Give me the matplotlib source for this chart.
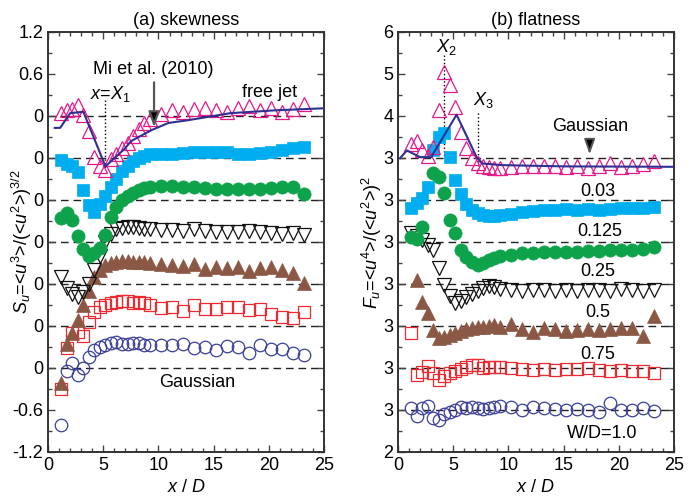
import numpy as np
import matplotlib.pyplot as plt
from matplotlib.ticker import MultipleLocator

plt.rcParams['font.family'] = ['Liberation Sans', 'DejaVu Sans']
plt.rcParams['mathtext.fontset'] = 'custom'
plt.rcParams['mathtext.rm'] = 'Liberation Sans'
plt.rcParams['mathtext.it'] = 'Liberation Sans:italic'
plt.rcParams['font.size'] = 13

nan = np.nan

# streamwise stations x/D
x_d = [1.2, 1.7, 2.2, 2.7, 3.2, 3.7, 4.2, 4.7, 5.2, 5.7, 6.2, 6.7, 7.2, 7.7, 8.2, 8.7, 9.2,
       10.2, 11.2, 12.2, 13.2, 14.2, 15.2, 16.2, 17.2, 18.2, 19.2, 20.2, 21.2, 22.2, 23.2]

series_names = ['free jet', '0.03', '0.125', '0.25', '0.5', '0.75', 'W/D=1.0']

# skewness, top (free jet) to bottom (W/D=1.0)
skew_free = [0.04, 0.08, 0.10, 0.16, 0.02, -0.22, -0.58, -0.72, -0.77, -0.62, -0.55, -0.46, -0.38, -0.28, -0.18, -0.10, -0.05,
             0.03, 0.08, 0.05, 0.10, 0.12, 0.08, 0.06, 0.12, 0.14, 0.08, 0.12, 0.05, 0.10, 0.17]
skew_003 = [-0.03, -0.08, -0.12, -0.20, -0.46, -0.67, -0.77, -0.66, -0.55, -0.42, -0.30, -0.18, -0.11, -0.05, 0.00, 0.03, 0.05,
            0.06, 0.05, 0.07, 0.08, 0.09, 0.09, 0.08, 0.06, 0.06, 0.07, 0.08, 0.12, 0.14, 0.15]
skew_0125 = [-0.26, -0.19, -0.29, -0.52, -0.70, -0.80, -0.76, -0.69, -0.50, -0.25, -0.10, 0.00, 0.06, 0.10, 0.14, 0.17, 0.19,
             0.20, 0.20, 0.19, 0.18, 0.17, 0.16, 0.15, 0.16, 0.15, 0.16, 0.17, 0.18, 0.19, 0.08]
skew_025 = [-0.50, -0.66, -0.74, -0.78, -0.72, -0.60, -0.40, -0.20, 0.00, 0.12, 0.18, 0.20, 0.21, 0.21, 0.20, 0.19, 0.18,
            0.17, 0.17, 0.16, 0.18, 0.15, 0.14, 0.14, 0.14, 0.15, 0.14, 0.13, 0.12, 0.13, 0.10]
skew_05 = [-1.42, -0.86, -0.70, -0.52, -0.30, -0.10, 0.10, 0.20, 0.27, 0.30, 0.32, 0.33, 0.33, 0.32, 0.31, 0.32, 0.30,
           0.29, 0.27, 0.25, 0.28, 0.22, 0.24, 0.23, 0.24, 0.18, 0.23, 0.24, 0.20, 0.15, 0.01]
skew_075 = [-0.90, -0.32, -0.10, -0.08, -0.14, 0.05, 0.20, 0.27, 0.30, 0.33, 0.34, 0.36, 0.35, 0.33, 0.34, 0.33, 0.30,
            0.26, 0.27, 0.22, 0.30, 0.24, 0.24, 0.27, 0.27, 0.23, 0.24, 0.17, 0.13, 0.11, 0.20]
skew_10 = [-0.81, -0.05, 0.07, -0.10, 0.00, 0.16, 0.25, 0.30, 0.33, 0.35, 0.37, 0.34, 0.34, 0.35, 0.36, 0.33, 0.33,
           0.33, 0.33, 0.34, 0.29, 0.30, 0.26, 0.31, 0.30, 0.21, 0.33, 0.27, 0.27, 0.21, 0.19]

# flatness
flat_free = [3.33, 3.40, 3.18, 3.05, 3.27, 4.14, 5.05, 4.74, 4.22, 3.63, 3.23, 2.99, 2.87, 2.80, 2.79, 2.77, 2.76,
             2.79, 2.80, 2.81, 2.82, 2.82, 2.79, 2.80, 2.76, 2.82, 2.87, 2.78, 2.81, 2.85, 2.92]
flat_003 = [2.82, 2.92, 3.04, 3.30, 4.20, 4.50, 4.59, 4.03, 3.48, 3.14, 2.90, 2.76, 2.68, 2.64, 2.63, 2.63, 2.64,
            2.67, 2.72, 2.74, 2.75, 2.76, 2.78, 2.77, 2.78, 2.77, 2.78, 2.80, 2.80, 2.82, 2.84]
flat_0125 = [3.13, 3.08, 3.36, nan, 4.64, 4.55, 4.16, 3.52, 3.21, 2.81, 2.65, 2.53, 2.45, 2.50, 2.57, 2.62, 2.66,
             2.70, 2.73, 2.74, 2.75, 2.76, 2.77, 2.77, 2.78, 2.79, 2.80, 2.80, 2.81, 2.83, 2.89]
flat_025 = [4.22, 4.15, 4.05, 3.93, 3.82, 3.38, 2.98, 2.72, 2.55, 2.60, 2.68, 2.76, 2.83, 2.90, 2.95, 2.93, 2.88,
            2.85, 2.84, 2.86, 2.85, 2.84, 2.86, 2.84, 2.85, 2.86, 2.84, 2.87, 2.85, 2.83, 2.86]
flat_05 = [nan, 4.10, 3.58, 3.32, 2.90, 2.72, 2.73, 2.78, 2.84, 2.88, 2.92, 2.95, 2.97, 2.98, 3.00, 3.02, 2.98,
           3.04, 2.92, 2.86, 2.96, 2.92, 2.88, 2.90, 2.93, 2.90, 2.94, 2.95, 2.96, 2.75, 3.24]
flat_075 = [3.83, 2.83, 2.90, 3.05, 2.88, 2.72, 2.80, 2.88, 2.94, 2.98, 3.02, 3.06, 3.08, 3.00, 3.02, 3.03, 3.02,
            3.00, 2.98, 2.96, 2.98, 2.96, 2.97, 2.98, 3.00, 2.95, 2.94, 2.95, 2.94, 2.93, 2.88]
flat_10 = [3.05, 2.86, 3.04, 3.10, 2.82, 2.76, 2.90, 2.96, 3.00, 3.06, 3.04, 3.06, 3.04, 3.02, 3.04, 3.06, 3.10,
           3.06, 3.00, 3.06, 3.04, 3.02, 3.00, 3.03, 3.00, 2.96, 3.16, 3.00, 3.00, 3.05, 2.98]

# Mi et al. (2010) free jet curves
mi_skew_x = [0.6, 1.1, 2.0, 3.2, 5.2, 7.0, 7.5, 9.4, 10.9, 12.7, 16.5, 20.5, 25.0]
mi_skew = [-0.17, -0.17, 0.04, 0.06, -0.72, -0.46, -0.36, -0.20, -0.10, -0.06, 0.04, 0.08, 0.11]
mi_flat_x = [0.2, 0.8, 2.0, 3.0, 5.3, 7.1, 7.6, 9.4, 15.0, 25.0]
mi_flat = [3.0, 3.18, 3.02, 3.02, 4.03, 3.03, 2.87, 2.83, 2.80, 2.79]

skew_data = [skew_free, skew_003, skew_0125, skew_025, skew_05, skew_075, skew_10]
flat_data = [flat_free, flat_003, flat_0125, flat_025, flat_05, flat_075, flat_10]

styles = [
    dict(marker='^', ms=9.5, mfc='none', mec='#e6198a', mew=0.9),
    dict(marker='s', ms=8.5, mfc='#00aeef', mec='#00aeef', mew=0.5),
    dict(marker='o', ms=9.5, mfc='#0ea24b', mec='#0ea24b', mew=0.5),
    dict(marker='v', ms=9.5, mfc='none', mec='#111111', mew=0.9),
    dict(marker='^', ms=9.5, mfc='#8c5846', mec='#8c5846', mew=0.5),
    dict(marker='s', ms=8.5, mfc='none', mec='#ee2a30', mew=0.9),
    dict(marker='o', ms=9, mfc='none', mec='#3a3f9a', mew=0.9),
]
navy = '#2e3192'


def setup_axes(ax):
    ax.set_xlim(0, 25)
    ax.xaxis.set_major_locator(MultipleLocator(5))
    ax.xaxis.set_minor_locator(MultipleLocator(1))
    ax.tick_params(which='both', direction='in', top=True, right=True, color='#444444', width=1)
    ax.tick_params(which='major', length=5, labelsize=13)
    ax.tick_params(which='minor', length=3)
    for s in ax.spines.values():
        s.set_linewidth(1.4)
        s.set_color('#333333')
    ax.set_xlabel(r'$x$ / $D$', fontsize=13, labelpad=4)


def draw_series(ax, data, step, base):
    n = len(data)
    for i in range(n - 1, -1, -1):
        off = step * (n - 1 - i)
        ax.axhline(base + off, color='#222222', lw=1, ls=(0, (5.5, 3.5)), zorder=1)
        ax.plot(x_d, np.array(data[i]) + off, ls='none', zorder=3, **styles[i])


fig = plt.figure(figsize=(6.99, 4.98), dpi=100)
ax1 = fig.add_axes([0.0687, 0.0924, 0.395, 0.8434])
ax2 = fig.add_axes([0.5694, 0.0924, 0.395, 0.8434])

# (a) skewness
setup_axes(ax1)
draw_series(ax1, skew_data, 0.6, 0.0)
ax1.plot(mi_skew_x, np.array(mi_skew) + 3.6, color=navy, lw=1.5, zorder=4)
ax1.set_ylim(-1.2, 4.8)
ax1.set_yticks(np.arange(-1.2, 4.81, 0.6))
ax1.set_yticklabels(['-1.2', '-0.6', '0', '0', '0', '0', '0', '0', '0', '0.6', '1.2'])
ax1.yaxis.set_minor_locator(MultipleLocator(0.3))
ax1.set_title('(a) skewness', fontsize=13, pad=5)
ax1.set_ylabel(r'$S_u$=<$u^3$>/(<$u^2$>)$^{3/2}$', fontsize=13, va='center')
ax1.yaxis.set_label_coords(-0.094, 0.5)
ax1.text(9.5, 4.27, 'Mi et al. (2010)', ha='center', va='center', fontsize=13)
ax1.annotate('', xy=(9.6, 3.4), xytext=(9.6, 4.12),
             arrowprops=dict(arrowstyle='-|>,head_length=0.7,head_width=0.25', fc='k', ec='#555555', lw=1.6))
ax1.text(5.6, 3.91, r'$x$=$X_1$', ha='center', va='center', fontsize=13)
ax1.plot([5.16, 5.16], [3.83, 2.83], color='k', ls=':', lw=1, zorder=2)
ax1.text(20.1, 3.93, 'free jet', ha='center', va='center', fontsize=13)
ax1.text(13.5, -0.21, 'Gaussian', ha='center', va='center', fontsize=13)

# (b) flatness
setup_axes(ax2)
draw_series(ax2, flat_data, 1.0, 3.0)
ax2.plot(mi_flat_x, np.array(mi_flat) + 6, color=navy, lw=1.5, zorder=4)
ax2.set_ylim(2, 12)
ax2.set_yticks(np.arange(2, 12.1, 1))
ax2.set_yticklabels(['2', '3', '3', '3', '3', '3', '3', '3', '4', '5', '6'])
ax2.yaxis.set_minor_locator(MultipleLocator(0.5))
ax2.set_title('(b) flatness', fontsize=13, pad=5)
ax2.set_ylabel(r'$F_u$=<$u^4$>/(<$u^2$>)$^2$', fontsize=13, va='center')
ax2.yaxis.set_label_coords(-0.094, 0.5)
ax2.text(4.35, 11.65, r'$X_2$', ha='center', va='center', fontsize=13)
ax2.plot([4.17, 4.17], [11.45, 9.0], color='k', ls=':', lw=1, zorder=2)
ax2.text(7.7, 10.38, r'$X_3$', ha='center', va='center', fontsize=13)
ax2.plot([7.27, 7.27], [10.07, 8.67], color='k', ls=':', lw=1, zorder=2)
ax2.text(17.4, 9.74, 'Gaussian', ha='center', va='center', fontsize=13)
ax2.annotate('', xy=(17.35, 9.02), xytext=(17.35, 9.52),
             arrowprops=dict(arrowstyle='-|>,head_length=0.7,head_width=0.25', fc='k', ec='#555555', lw=1.4))
label_pos = [(18.1, 8.19), (18.3, 7.24), (18.1, 6.29), (18.1, 5.33), (18.1, 4.31), (18.5, 2.45)]
for name, (lx, ly) in zip(series_names[1:], label_pos):
    ax2.text(lx, ly, name, ha='center', va='center', fontsize=13)

fig.savefig('out.png', dpi=100)
